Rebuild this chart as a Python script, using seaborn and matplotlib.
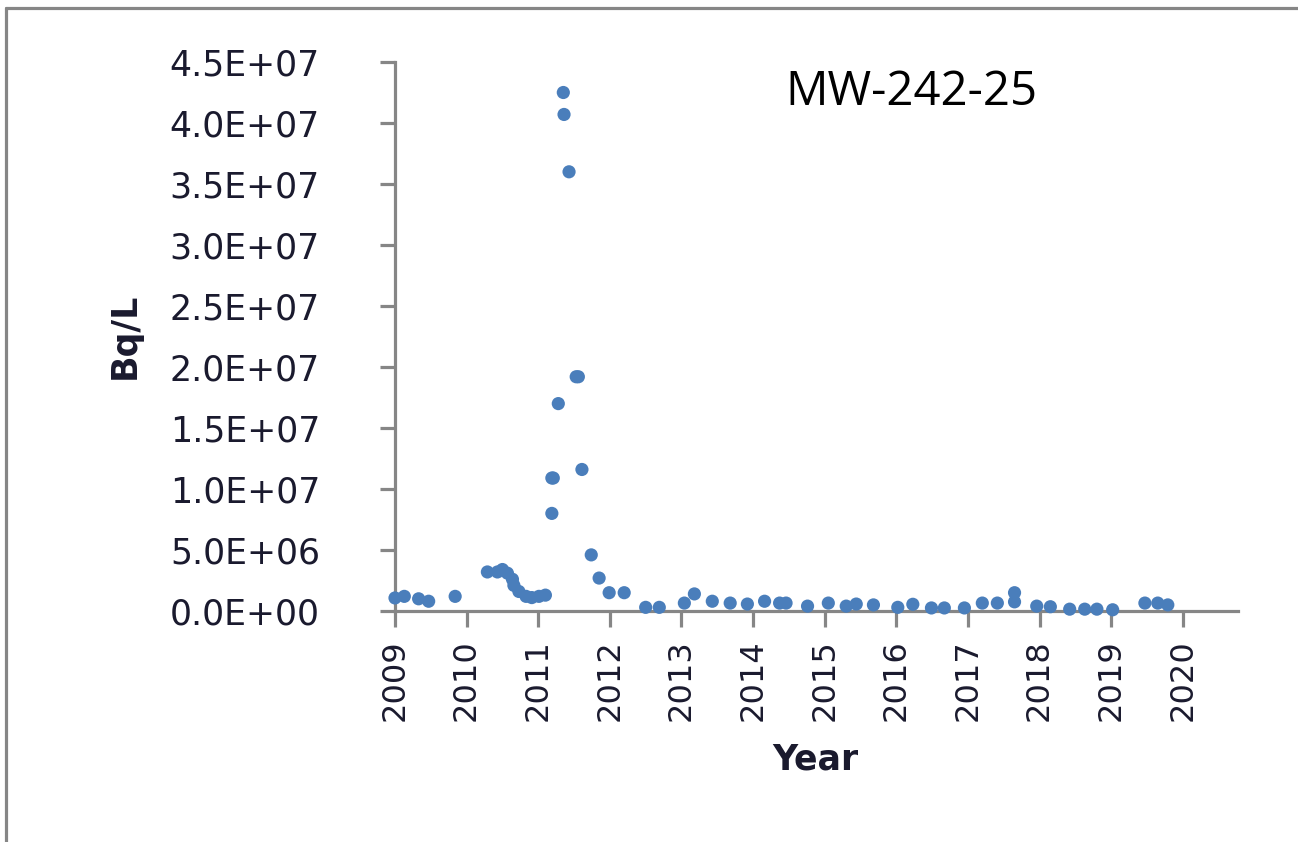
import numpy as np
import pandas as pd
import matplotlib
matplotlib.use('Agg')
import matplotlib.pyplot as plt
from matplotlib.lines import Line2D
from matplotlib.ticker import FuncFormatter
import seaborn as sns

# Sampling dates (decimal year) and concentrations (Bq/L)
years = [2009.00, 2009.13, 2009.33, 2009.47, 2009.84,
         2010.29, 2010.43, 2010.50, 2010.57, 2010.64, 2010.66, 2010.73, 2010.83, 2010.91,
         2011.01, 2011.10, 2011.19, 2011.21, 2011.19, 2011.28, 2011.35, 2011.36, 2011.43,
         2011.53, 2011.56, 2011.61, 2011.74, 2011.85, 2011.99, 2012.20,
         2012.50, 2012.69, 2013.04, 2013.18, 2013.43, 2013.68, 2013.92,
         2014.16, 2014.37, 2014.46, 2014.76, 2015.05, 2015.30, 2015.44, 2015.68,
         2016.02, 2016.23, 2016.49, 2016.67, 2016.95,
         2017.20, 2017.41, 2017.65, 2017.65, 2017.96, 2018.15, 2018.42, 2018.63, 2018.80,
         2019.02, 2019.47, 2019.65, 2019.79]
bq = [1.07e6, 1.2e6, 1.0e6, 0.8e6, 1.2e6,
      3.2e6, 3.2e6, 3.4e6, 3.1e6, 2.6e6, 2.1e6, 1.6e6, 1.2e6, 1.1e6,
      1.2e6, 1.3e6, 1.09e7, 1.09e7, 8.0e6, 1.70e7, 4.25e7, 4.07e7, 3.6e7,
      1.92e7, 1.92e7, 1.16e7, 4.6e6, 2.7e6, 1.5e6, 1.5e6,
      0.3e6, 0.3e6, 0.65e6, 1.4e6, 0.8e6, 0.65e6, 0.57e6,
      0.8e6, 0.65e6, 0.65e6, 0.4e6, 0.65e6, 0.4e6, 0.57e6, 0.5e6,
      0.3e6, 0.55e6, 0.25e6, 0.25e6, 0.25e6,
      0.65e6, 0.65e6, 1.5e6, 0.75e6, 0.4e6, 0.35e6, 0.15e6, 0.15e6, 0.15e6,
      0.1e6, 0.65e6, 0.65e6, 0.5e6]
year_ticks = list(range(2009, 2021))
bq_ticks = [0, 5e6, 1e7, 1.5e7, 2e7, 2.5e7, 3e7, 3.5e7, 4e7, 4.5e7]
well = 'MW-242-25'

df = pd.DataFrame({'Year': years, 'Bq/L': bq})

sns.set_style('white')
plt.rcParams['font.family'] = ['DejaVu Sans']

W, H = 1298, 842
fig = plt.figure(figsize=(W / 100, H / 100), dpi=100)
ax = fig.add_axes([395 / W, 1 - 611 / H, (1238 - 395) / W, (611 - 62) / H])

sns.scatterplot(data=df, x='Year', y='Bq/L', ax=ax, color='#4a7ebb',
                s=90, edgecolor='none', clip_on=False, zorder=3)

ax.set_xlim(2009, 2020.77)
ax.set_ylim(0, 4.5e7)
ax.set_xticks(year_ticks)
ax.set_yticks(bq_ticks)
ax.yaxis.set_major_formatter(FuncFormatter(lambda v, p: ('%.1E' % v)))
ax.set_xticklabels([str(y) for y in year_ticks], rotation=90)

grey = '#868686'
for s in ['top', 'right']:
    ax.spines[s].set_visible(False)
for s in ['left', 'bottom']:
    ax.spines[s].set_color(grey)
    ax.spines[s].set_linewidth(2.3)
ax.tick_params(axis='y', direction='out', length=11, width=2.3, color=grey,
               labelsize=25, labelcolor='#1a1a2e', pad=43, left=True)
ax.tick_params(axis='x', direction='out', length=11.5, width=2.3, color=grey,
               labelsize=23, labelcolor='#1a1a2e', pad=9, bottom=True)
ax.set_xlabel('')
ax.set_ylabel('')

# axis titles and well name
fig.text(815 / W, 1 - 760 / H, 'Year', ha='center', va='center',
         fontsize=25, fontweight='bold', color='#1a1a2e')
fig.text(125 / W, 1 - 336 / H, 'Bq/L', ha='center', va='center', rotation=90,
         fontsize=25, fontweight='bold', color='#1a1a2e')
fig.text(785 / W, 1 - 105 / H, well, ha='left', va='baseline',
         fontsize=34, family='Open Sans', color='black')

# outer frame (top and left edges visible)
fig.add_artist(Line2D([5.5 / W, 1], [1 - 7.5 / H, 1 - 7.5 / H], color=grey, lw=2.3,
                      transform=fig.transFigure))
fig.add_artist(Line2D([5.5 / W, 5.5 / W], [0, 1 - 7.5 / H], color=grey, lw=2.3,
                      transform=fig.transFigure))

fig.savefig('out.png', dpi=100)
